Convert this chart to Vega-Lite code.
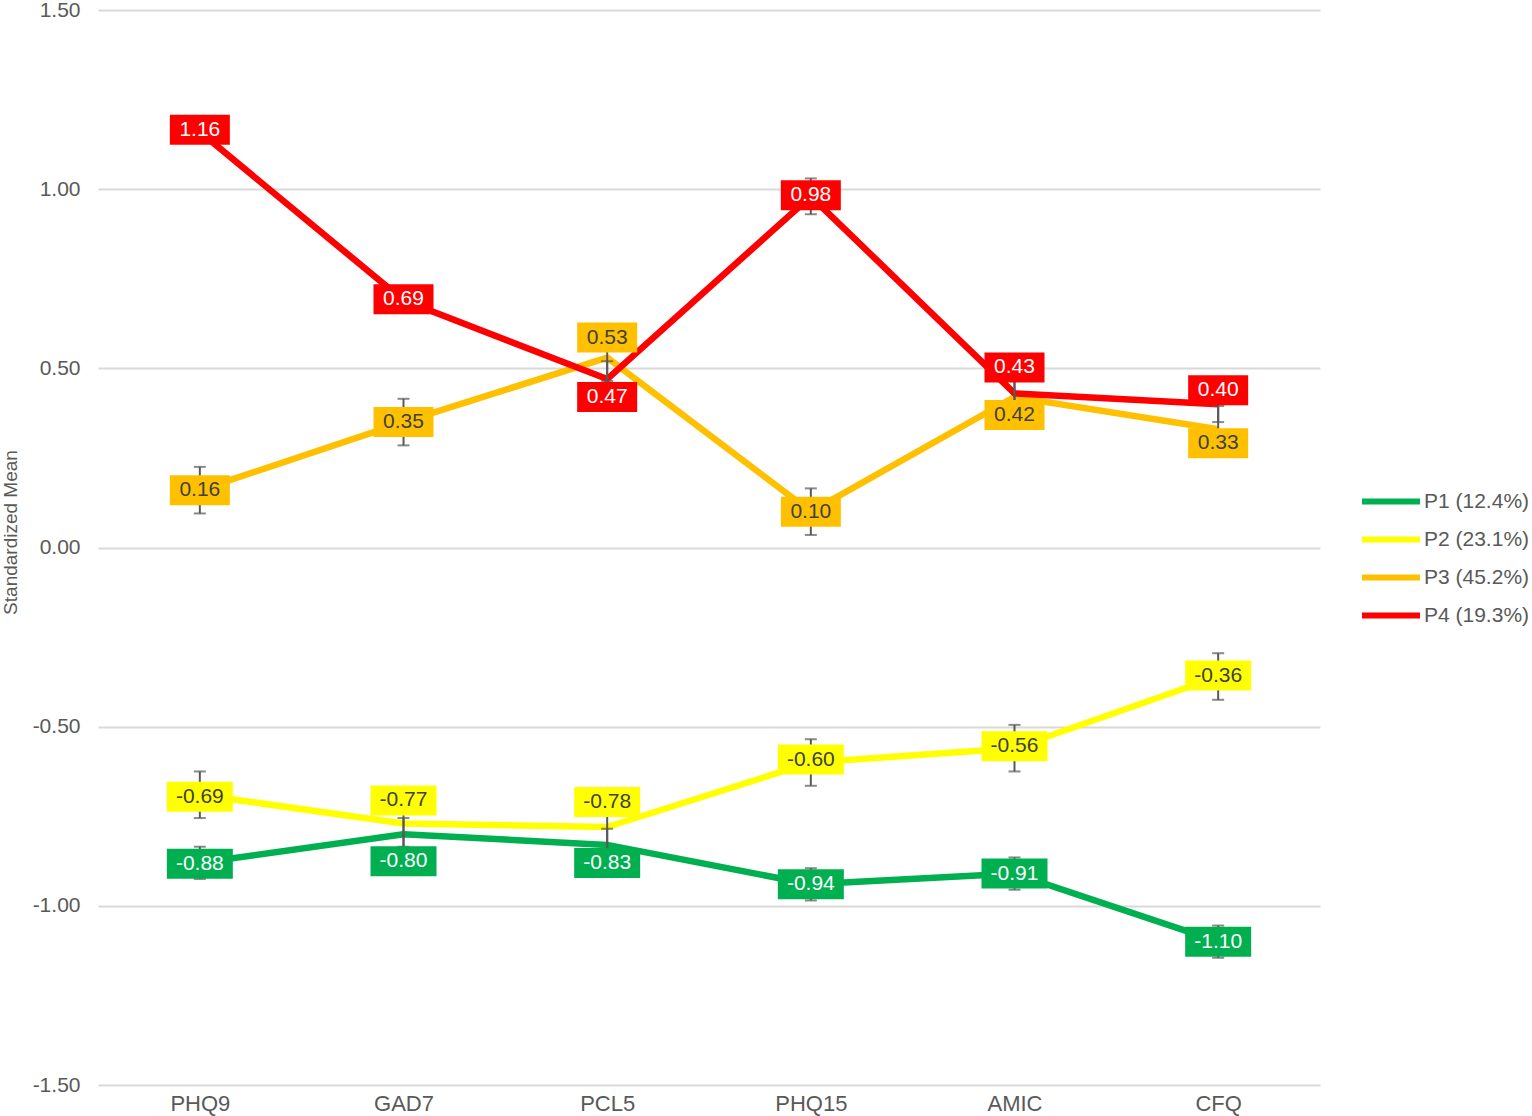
{
  "$schema": "https://vega.github.io/schema/vega-lite/v6.json",
  "autosize": {"type": "none"},
  "width": 1222,
  "height": 1075,
  "padding": {"left": 98, "top": 10, "right": 212, "bottom": 31},
  "background": "white",
  "config": {
    "font": "Liberation Sans",
    "view": {"stroke": null}
  },
  "data": {
    "values": [
      {"cluster": "P1 (12.4%)", "measure": "PHQ9", "value": -0.88, "lo": -0.925, "hi": -0.835},
      {"cluster": "P1 (12.4%)", "measure": "GAD7", "value": -0.80, "lo": -0.845, "hi": -0.755},
      {"cluster": "P1 (12.4%)", "measure": "PCL5", "value": -0.83, "lo": -0.875, "hi": -0.785},
      {"cluster": "P1 (12.4%)", "measure": "PHQ15", "value": -0.94, "lo": -0.985, "hi": -0.895},
      {"cluster": "P1 (12.4%)", "measure": "AMIC", "value": -0.91, "lo": -0.955, "hi": -0.865},
      {"cluster": "P1 (12.4%)", "measure": "CFQ", "value": -1.10, "lo": -1.145, "hi": -1.055},
      {"cluster": "P2 (23.1%)", "measure": "PHQ9", "value": -0.69, "lo": -0.755, "hi": -0.625},
      {"cluster": "P2 (23.1%)", "measure": "GAD7", "value": -0.77, "lo": -0.835, "hi": -0.705},
      {"cluster": "P2 (23.1%)", "measure": "PCL5", "value": -0.78, "lo": -0.845, "hi": -0.715},
      {"cluster": "P2 (23.1%)", "measure": "PHQ15", "value": -0.60, "lo": -0.665, "hi": -0.535},
      {"cluster": "P2 (23.1%)", "measure": "AMIC", "value": -0.56, "lo": -0.625, "hi": -0.495},
      {"cluster": "P2 (23.1%)", "measure": "CFQ", "value": -0.36, "lo": -0.425, "hi": -0.295},
      {"cluster": "P3 (45.2%)", "measure": "PHQ9", "value": 0.16, "lo": 0.095, "hi": 0.225},
      {"cluster": "P3 (45.2%)", "measure": "GAD7", "value": 0.35, "lo": 0.285, "hi": 0.415},
      {"cluster": "P3 (45.2%)", "measure": "PCL5", "value": 0.53, "lo": 0.465, "hi": 0.595},
      {"cluster": "P3 (45.2%)", "measure": "PHQ15", "value": 0.10, "lo": 0.035, "hi": 0.165},
      {"cluster": "P3 (45.2%)", "measure": "AMIC", "value": 0.42, "lo": 0.355, "hi": 0.485},
      {"cluster": "P3 (45.2%)", "measure": "CFQ", "value": 0.33, "lo": 0.265, "hi": 0.395},
      {"cluster": "P4 (19.3%)", "measure": "PHQ9", "value": 1.16, "lo": 1.13, "hi": 1.19},
      {"cluster": "P4 (19.3%)", "measure": "GAD7", "value": 0.69, "lo": 0.66, "hi": 0.72},
      {"cluster": "P4 (19.3%)", "measure": "PCL5", "value": 0.47, "lo": 0.42, "hi": 0.52},
      {"cluster": "P4 (19.3%)", "measure": "PHQ15", "value": 0.98, "lo": 0.93, "hi": 1.03},
      {"cluster": "P4 (19.3%)", "measure": "AMIC", "value": 0.43, "lo": 0.38, "hi": 0.48},
      {"cluster": "P4 (19.3%)", "measure": "CFQ", "value": 0.40, "lo": 0.35, "hi": 0.45}
    ]
  },
  "encoding": {
    "x": {
      "field": "measure",
      "type": "nominal",
      "sort": ["PHQ9", "GAD7", "PCL5", "PHQ15", "AMIC", "CFQ"],
      "scale": {"type": "point", "padding": 0.5},
      "axis": {
        "title": null,
        "labelAngle": 0,
        "labelFontSize": 22,
        "labelColor": "#595959",
        "labelPadding": 8,
        "ticks": false,
        "domain": false,
        "grid": false
      }
    },
    "y": {
      "field": "value",
      "type": "quantitative",
      "scale": {"domain": [-1.5, 1.5], "nice": false, "zero": false},
      "axis": {
        "title": "Standardized Mean",
        "titleFontSize": 19,
        "titleFontWeight": "normal",
        "titleColor": "#595959",
        "titleX": -88,
        "titleY": 522,
        "titleAngle": -90,
        "titleAlign": "center",
        "titleBaseline": "middle",
        "values": [-1.5, -1, -0.5, 0, 0.5, 1, 1.5],
        "labelExpr": "replace(format(datum.value, '.2f'), '\u2212', '-')",
        "labelFontSize": 21,
        "labelColor": "#595959",
        "labelPadding": 18,
        "ticks": false,
        "domain": false,
        "grid": true,
        "gridColor": "#d9d9d9",
        "gridWidth": 2
      }
    }
  },
  "layer": [
    {
      "mark": {"type": "line", "strokeWidth": 6.5, "strokeJoin": "round"},
      "encoding": {
        "color": {
          "field": "cluster",
          "type": "nominal",
          "scale": {
            "domain": ["P1 (12.4%)", "P2 (23.1%)", "P3 (45.2%)", "P4 (19.3%)"],
            "range": ["#00b050", "#ffff00", "#ffc000", "#ff0000"]
          },
          "legend": {
            "title": null,
            "orient": "none",
            "legendX": 1275.5,
            "legendY": 474,
            "symbolType": "M-2,0H2",
            "symbolSize": 841,
            "symbolStrokeWidth": 6,
            "labelFontSize": 21,
            "labelColor": "#595959",
            "labelOffset": 15.5,
            "rowPadding": 8
          }
        },
        "order": {"value": null}
      }
    },
    {
      "mark": {"type": "rule", "color": "#595959", "strokeWidth": 2},
      "encoding": {
        "y": {"field": "lo", "type": "quantitative"},
        "y2": {"field": "hi"}
      }
    },
    {
      "mark": {"type": "tick", "color": "#595959", "thickness": 2, "size": 12, "orient": "horizontal"},
      "encoding": {"y": {"field": "lo", "type": "quantitative"}}
    },
    {
      "mark": {"type": "tick", "color": "#595959", "thickness": 2, "size": 12, "orient": "horizontal"},
      "encoding": {"y": {"field": "hi", "type": "quantitative"}}
    },
    {
      "mark": {
        "type": "point",
        "filled": true,
        "opacity": 1,
        "size": 3600,
        "strokeWidth": 0,
        "yOffset": {"expr": "({'P4|PHQ9': -2, 'P4|GAD7': -1, 'P4|PCL5': 18, 'P4|PHQ15': -1, 'P4|AMIC': -26, 'P4|CFQ': -14, 'P3|PCL5': -20, 'P3|AMIC': 18, 'P3|CFQ': 14, 'P2|PHQ9': 2, 'P2|GAD7': -23, 'P2|PCL5': -25, 'P2|PHQ15': -3, 'P2|AMIC': -2, 'P2|CFQ': -1, 'P1|PHQ9': 1, 'P1|GAD7': 27, 'P1|PCL5': 18})[slice(datum.cluster, 0, 2) + '|' + datum.measure] || 0"}
      },
      "encoding": {
        "color": {"field": "cluster", "type": "nominal", "legend": null},
        "shape": {
          "condition": {"test": "datum.value < 0", "value": "M-1.1,-0.5H1.1V0.5H-1.1Z"},
          "value": "M-1,-0.5H1V0.5H-1Z"
        }
      }
    },
    {
      "transform": [
        {"calculate": "replace(format(datum.value, '.2f'), '\u2212', '-')", "as": "label"}
      ],
      "mark": {
        "type": "text",
        "fontSize": 21,
        "align": "center",
        "baseline": "middle",
        "yOffset": {"expr": "({'P4|PHQ9': -2, 'P4|GAD7': -1, 'P4|PCL5': 18, 'P4|PHQ15': -1, 'P4|AMIC': -26, 'P4|CFQ': -14, 'P3|PCL5': -20, 'P3|AMIC': 18, 'P3|CFQ': 14, 'P2|PHQ9': 2, 'P2|GAD7': -23, 'P2|PCL5': -25, 'P2|PHQ15': -3, 'P2|AMIC': -2, 'P2|CFQ': -1, 'P1|PHQ9': 1, 'P1|GAD7': 27, 'P1|PCL5': 18})[slice(datum.cluster, 0, 2) + '|' + datum.measure] || 0"}
      },
      "encoding": {
        "text": {"field": "label"},
        "color": {
          "condition": {"test": "datum.cluster == 'P2 (23.1%)' || datum.cluster == 'P3 (45.2%)'", "value": "#404040"},
          "value": "#ffffff"
        }
      }
    }
  ]
}
